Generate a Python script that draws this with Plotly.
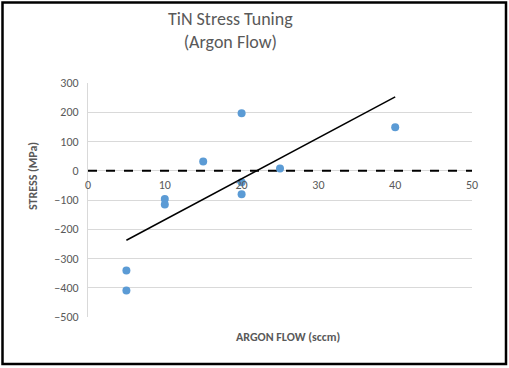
import numpy as np
import plotly.graph_objects as go

argon_flow = [5, 5, 10, 10, 15, 20, 20, 20, 25, 40]
stress = [-341, -409, -97, -115, 32, 197, -39, -80, 8, 149]
x_ticks = [0, 10, 20, 30, 40, 50]
y_ticks = [300, 200, 100, 0, -100, -200, -300, -400, -500]

W, H = 509, 368
L, R, T, B = 88, 472, 83, 317

slope, intercept = np.polyfit(argon_flow, stress, 1)
tx = [min(argon_flow), max(argon_flow)]
ty = [slope * v + intercept for v in tx]

fig = go.Figure()
fig.add_trace(go.Scatter(x=[0, 50], y=[0, 0], mode="lines",
                         line=dict(color="black", width=2, dash="dash"),
                         hoverinfo="skip", showlegend=False))
fig.add_trace(go.Scatter(x=argon_flow, y=stress, mode="markers",
                         marker=dict(color="#5B9BD5", size=8),
                         showlegend=False))
fig.add_trace(go.Scatter(x=tx, y=ty, mode="lines",
                         line=dict(color="black", width=1.5),
                         showlegend=False))

def px_x(p):
    return (p - L) / (R - L)

def px_y(p):
    return (B - p) / (B - T)

gray = "#595959"
font = "Carlito, Calibri, Liberation Sans Narrow, Open Sans, sans-serif"

fig.update_layout(
    width=W, height=H,
    margin=dict(l=L, r=W - R, t=T, b=H - B),
    paper_bgcolor="white", plot_bgcolor="white",
    font=dict(family=font, color=gray, size=12),
    xaxis=dict(range=[0, 50], tickvals=x_ticks, showgrid=False, zeroline=False,
               showline=False, anchor="free",
               position=(0 - (-500)) / 800, ticks="", ticklabelstandoff=5,
               tickfont=dict(size=12, color=gray)),
    yaxis=dict(range=[-500, 300], tickvals=y_ticks, showgrid=True,
               gridcolor="#D9D9D9", gridwidth=1, zeroline=False,
               showline=True, linecolor="#D9D9D9", linewidth=1,
               ticks="", ticklabelstandoff=6,
               tickfont=dict(size=12, color=gray)),
    shapes=[dict(type="rect", xref="paper", yref="paper",
                 x0=px_x(2.5), x1=px_x(506), y0=px_y(364), y1=px_y(2.5),
                 line=dict(color="black", width=2.5), layer="above")],
    annotations=[
        dict(text="TiN Stress Tuning<br>(Argon Flow)", xref="paper", yref="paper",
             x=px_x(230), y=px_y(31), showarrow=False, xanchor="center", yanchor="middle",
             font=dict(size=18, color=gray, family=font)),
        dict(text="<b>ARGON FLOW (sccm)</b>", xref="paper", yref="paper",
             x=px_x(288), y=px_y(337), showarrow=False, xanchor="center", yanchor="middle",
             font=dict(size=12, color=gray, family=font)),
        dict(text="<b>STRESS (MPa)</b>", xref="paper", yref="paper",
             x=px_x(33), y=px_y(176), showarrow=False, textangle=-90,
             xanchor="center", yanchor="middle",
             font=dict(size=12, color=gray, family=font)),
    ],
)

fig.write_html("out.html", config={"displayModeBar": False},
               post_script="document.body.style.margin='0';document.body.style.padding='0';")
